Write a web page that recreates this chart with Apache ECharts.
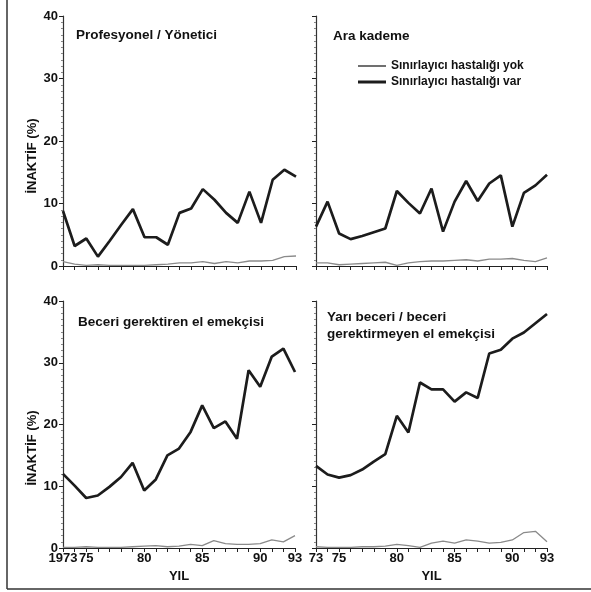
<!DOCTYPE html>
<html>
<head>
<meta charset="utf-8">
<script src="https://cdn.jsdelivr.net/npm/echarts@6/dist/echarts.min.js"></script>
<style>html,body{margin:0;padding:0;background:#fff}#c{width:591px;height:592px}</style>
</head>
<body>
<div id="c"></div>
<script>
// ---- data ----
const years = [1973,1974,1975,1976,1977,1978,1979,1980,1981,1982,1983,1984,1985,1986,1987,1988,1989,1990,1991,1992,1993];
const panelTitles = ['Profesyonel / Yönetici', 'Ara kademe', 'Beceri gerektiren el emekçisi', 'Yarı beceri / beceri\ngerektirmeyen el emekçisi'];
const seriesNames = ['Sınırlayıcı hastalığı yok', 'Sınırlayıcı hastalığı var'];
const yTicks = [0, 10, 20, 30, 40];
const xLabelYears = [1973, 1975, 1980, 1985, 1990, 1993];

const profYok   = [0.7,0.3,0.1,0.2,0.1,0.1,0.1,0.1,0.2,0.3,0.5,0.5,0.7,0.4,0.7,0.5,0.8,0.8,0.9,1.5,1.6];
const profVar   = [8.8,3.2,4.4,1.5,4.0,6.6,9.1,4.6,4.6,3.4,8.5,9.2,12.3,10.6,8.5,6.9,11.9,6.9,13.8,15.4,14.3];
const araYok    = [0.5,0.5,0.2,0.3,0.4,0.5,0.6,0.1,0.5,0.7,0.8,0.8,0.9,1.0,0.8,1.1,1.1,1.2,0.9,0.7,1.3];
const araVar    = [6.3,10.3,5.2,4.3,4.8,5.4,6.0,12.0,10.1,8.4,12.4,5.5,10.3,13.6,10.4,13.2,14.5,6.3,11.7,12.9,14.6];
const beceriYok = [0.1,0.1,0.2,0.1,0.1,0.1,0.2,0.3,0.4,0.2,0.3,0.6,0.4,1.2,0.7,0.6,0.6,0.7,1.3,1.0,2.0];
const beceriVar = [12.0,10.1,8.1,8.5,9.9,11.5,13.8,9.3,11.1,15.0,16.1,18.8,23.1,19.4,20.5,17.7,28.8,26.1,31.0,32.3,28.5];
const yariYok   = [0.2,0.1,0.1,0.1,0.2,0.2,0.3,0.6,0.4,0.1,0.8,1.1,0.8,1.3,1.1,0.8,0.9,1.3,2.5,2.7,1.0];
const yariVar   = [13.3,11.9,11.4,11.8,12.7,14.0,15.2,21.4,18.7,26.8,25.7,25.7,23.7,25.2,24.3,31.5,32.1,33.9,34.9,36.4,37.9];

const panelData = [[profYok, profVar], [araYok, araVar], [beceriYok, beceriVar], [yariYok, yariVar]];

// ---- layout ----
const FONT = 'Liberation Sans, Arial, sans-serif';
const grids = [
  {left: 63, top: 16, width: 233, height: 250},
  {left: 316, top: 16, width: 231, height: 250},
  {left: 63, top: 301, width: 232, height: 247},
  {left: 316, top: 301, width: 231, height: 247}
];

const xAxes = grids.map((g, i) => ({
  type: 'value', gridIndex: i, min: 1973, max: 1993, interval: 1,
  axisLine: {lineStyle: {color: '#222', width: 1.2}},
  axisTick: {show: true, inside: false, length: 4, lineStyle: {color: '#222'}},
  splitLine: {show: false},
  name: i >= 2 ? 'YIL' : '',
  nameLocation: 'middle', nameGap: 22,
  nameTextStyle: {fontFamily: FONT, fontWeight: 'bold', fontSize: 13, color: '#111'},
  axisLabel: {
    show: i >= 2, margin: 4, showMinLabel: true, showMaxLabel: true,
    fontFamily: FONT, fontWeight: 'bold', fontSize: 13, color: '#111',
    formatter: v => {
      if (xLabelYears.indexOf(v) < 0) return '';
      if (v === 1973 && i === 2) return '1973';
      return String(v % 100);
    }
  }
}));

const yAxes = grids.map((g, i) => ({
  type: 'value', gridIndex: i, min: 0, max: 40, interval: 10,
  axisLine: {show: true, lineStyle: {color: '#333', width: 1.2}},
  axisTick: {show: true, length: 4, lineStyle: {color: '#222'}},
  minorTick: {show: true, splitNumber: 10, length: 2, lineStyle: {color: '#888'}},
  splitLine: {show: false},
  axisLabel: {
    show: i % 2 === 0, margin: 5,
    fontFamily: FONT, fontWeight: 'bold', fontSize: 13, color: '#111'
  }
}));

const series = [];
panelData.forEach((pd, i) => {
  series.push({
    name: seriesNames[0], type: 'line', xAxisIndex: i, yAxisIndex: i,
    data: years.map((y, k) => [y, pd[0][k]]),
    showSymbol: false, lineStyle: {color: '#8a8a8a', width: 1.3}, itemStyle: {color: '#222'},
    silent: true, z: 2
  });
  series.push({
    name: seriesNames[1], type: 'line', xAxisIndex: i, yAxisIndex: i,
    data: years.map((y, k) => [y, pd[1][k]]),
    showSymbol: false, lineStyle: {color: '#1c1c1c', width: 2.7}, itemStyle: {color: '#1c1c1c'},
    silent: true, z: 3
  });
});

const titleStyle = {fontFamily: FONT, fontWeight: 'bold', fontSize: 13.5, color: '#111', lineHeight: 17};
const titles = [
  {text: panelTitles[0], left: 76, top: 27},
  {text: panelTitles[1], left: 333, top: 28},
  {text: panelTitles[2], left: 78, top: 314},
  {text: panelTitles[3], left: 327, top: 309}
].map(t => Object.assign(t, {textStyle: titleStyle, padding: 0}));

const legendBase = {
  orient: 'vertical', left: 358, icon: 'rect', itemWidth: 28, itemGap: 6, padding: 0,
  textStyle: {fontFamily: FONT, fontWeight: 'bold', fontSize: 12, color: '#111'},
  selectedMode: false
};

const option = {
  animation: false,
  backgroundColor: '#fff',
  title: titles,
  grid: grids,
  xAxis: xAxes,
  yAxis: yAxes,
  legend: [
    Object.assign({}, legendBase, {top: 60, itemHeight: 1.3, data: [{name: seriesNames[0], itemStyle: {color: '#222', borderColor: '#222', borderWidth: 0}, lineStyle: {color: '#222'}}]}),
    Object.assign({}, legendBase, {top: 76, itemHeight: 3, data: [{name: seriesNames[1], itemStyle: {color: '#1c1c1c', borderColor: '#1c1c1c', borderWidth: 0}, lineStyle: {color: '#1c1c1c'}}]})
  ],
  series: series,
  graphic: [
    {type: 'text', x: 32, y: 156, rotation: Math.PI / 2,
     style: {text: 'İNAKTİF (%)', fontFamily: FONT, fontWeight: 'bold', fontSize: 13, fill: '#111', align: 'center', verticalAlign: 'middle'}},
    {type: 'text', x: 32, y: 448, rotation: Math.PI / 2,
     style: {text: 'İNAKTİF (%)', fontFamily: FONT, fontWeight: 'bold', fontSize: 13, fill: '#111', align: 'center', verticalAlign: 'middle'}},
    {type: 'line', shape: {x1: 7, y1: 0, x2: 7, y2: 589}, style: {stroke: '#333', lineWidth: 1.5}},
    {type: 'line', shape: {x1: 7, y1: 589, x2: 591, y2: 589}, style: {stroke: '#333', lineWidth: 1.5}}
  ]
};

echarts.init(document.getElementById('c'), null, {renderer: 'canvas'}).setOption(option);
</script>
</body>
</html>
